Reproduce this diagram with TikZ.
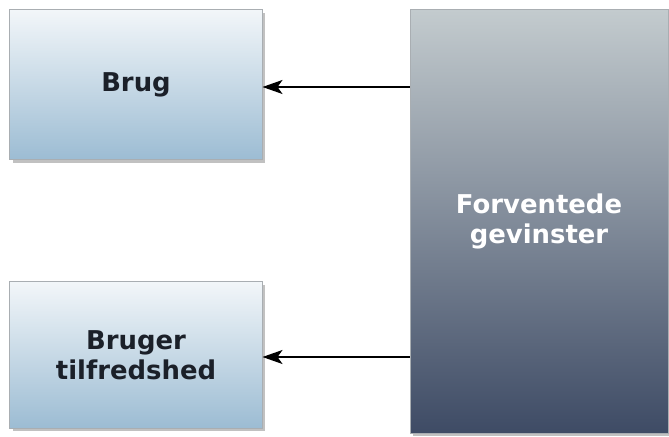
\documentclass[tikz,border=0pt]{standalone}
\usepackage{fontspec}
\setmainfont{DejaVu Sans}
\usepackage{tikz}
\usetikzlibrary{calc,positioning,arrows.meta,shadows}

\definecolor{boxtop}{HTML}{F2F6F9}
\definecolor{boxbot}{HTML}{9CBCD3}
\definecolor{gaintop}{HTML}{C3CBCE}
\definecolor{gainbot}{HTML}{3E4B65}
\definecolor{boxline}{HTML}{A9AEB2}
\definecolor{txtdark}{HTML}{1B2029}

\tikzset{
	effect/.style={draw=boxline, line width=1bp, inner sep=0pt, align=center,
		font=\fontsize{26}{30}\selectfont\bfseries,
		drop shadow={shadow xshift=3bp, shadow yshift=-3bp, opacity=0.35, fill=black!70}},
	smallbox/.style={effect, top color=boxtop, bottom color=boxbot, text=txtdark,
		minimum width=252bp, minimum height=150bp},
	gainbox/.style={effect, top color=gaintop, bottom color=gainbot, text=white,
		minimum width=258bp, minimum height=423bp},
	arr/.style={draw=black, line width=1.5bp, -{Stealth[length=20bp,width=14bp,inset=5bp]}}
}

\begin{document}
\begin{tikzpicture}[x=1bp,y=1bp]
			\useasboundingbox (0,0) rectangle (669,-437);
			% the expected gain box on the right
			\node[gainbox] at (539,-221.5) (gain) {Forventede\\gevinster};
			% the two effect boxes on the left
			\node[smallbox] at (136,-85) (brug) {Brug};
			\node[smallbox, minimum height=146bp] at (136,-355) (tilfreds) {Bruger\\tilfredshed};
			\draw[arr] (gain.west |- brug.east) ++(0,-2) -- ($(brug.east)+(0,-2)$);
			\draw[arr] (gain.west |- tilfreds.east) ++(0,-2) -- ($(tilfreds.east)+(0,-2)$);
	\end{tikzpicture}
\end{document}
